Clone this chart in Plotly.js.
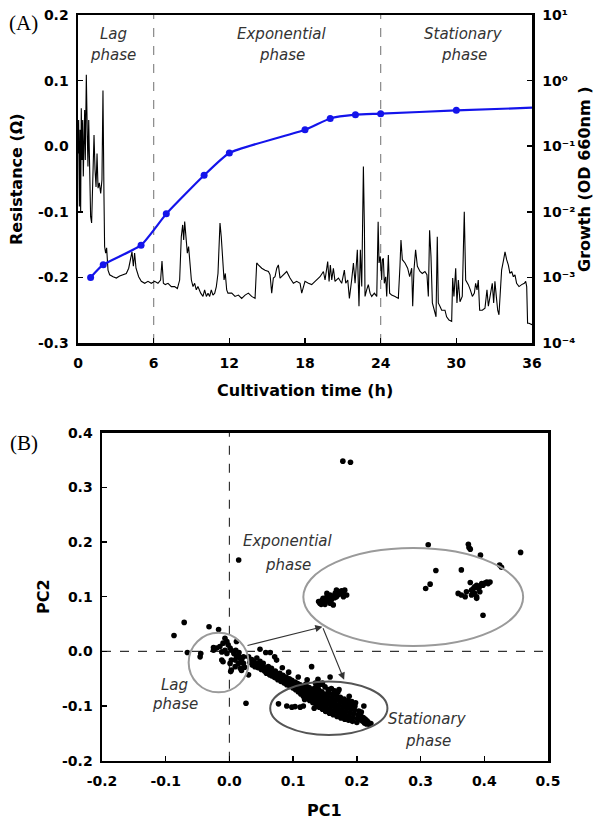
<!DOCTYPE html>
<html>
<head>
<meta charset="utf-8">
<script src="https://cdn.plot.ly/plotly-3.0.1.min.js"></script>
<style>html,body{margin:0;padding:0;background:#fff;}#chart{width:595px;height:821px;}</style>
</head>
<body>
<div id="chart"></div>
<script>
// ---------- Panel A data ----------
const timeH = [
0.00,0.05,0.11,0.16,0.21,0.26,0.32,0.37,0.42,0.48,0.53,0.58,0.66,0.74,0.79,0.85,0.93,1.00,1.08,1.16,
1.27,1.35,1.43,1.51,1.59,1.69,1.80,1.90,1.98,2.06,2.11,2.19,2.27,2.38,2.51,2.78,3.04,3.30,3.57,3.83,
4.02,4.18,4.28,4.39,4.49,4.60,4.70,4.81,5.02,5.29,5.55,5.81,6.08,6.34,6.55,6.66,6.77,6.92,7.14,7.40,
7.66,7.88,8.06,8.19,8.30,8.38,8.46,8.56,8.67,8.77,8.88,8.99,9.12,9.25,9.38,9.51,9.73,9.91,10.04,10.18,
10.31,10.44,10.57,10.70,10.84,10.97,11.10,11.26,11.36,11.47,11.58,11.68,11.79,11.89,
12.19,12.45,12.72,12.98,13.25,13.51,13.77,14.04,14.17,14.30,14.57,14.83,15.10,15.23,15.36,15.49,15.62,15.76,15.89,16.02,
16.29,16.55,16.81,17.08,17.34,17.61,17.74,18.00,18.27,18.53,18.80,19.19,19.46,19.59,19.80,19.91,20.01,20.12,20.25,20.38,
20.65,20.91,21.12,21.23,21.39,21.52,21.70,21.84,21.97,22.15,22.28,22.39,22.50,22.63,22.71,22.76,22.89,23.02,23.16,23.29,
23.50,23.69,23.80,23.87,23.97,24.08,24.13,24.21,24.29,24.40,24.48,24.61,24.71,24.87,25.14,25.40,25.53,25.61,25.72,25.93,
26.14,26.30,26.46,26.54,26.64,26.77,26.91,27.12,27.30,27.51,27.67,27.78,27.88,27.99,28.10,28.25,28.39,28.49,28.57,28.70,
28.84,29.10,29.23,29.42,29.63,29.71,29.81,29.95,30.05,30.16,30.29,30.47,30.63,30.74,30.95,31.11,31.27,31.43,31.53,31.64,
31.74,31.85,32.06,32.27,32.43,32.54,32.69,32.85,32.96,33.06,33.17,33.28,33.38,33.49,33.59,33.75,33.86,33.99,34.12,34.25,
34.39,34.52,34.65,34.78,34.97,35.18,35.39,35.50,35.58,35.65,35.76,36.00];
const resistance = [
-0.011,0.040,-0.092,0.025,-0.102,0.058,-0.021,0.040,-0.046,0.000,0.055,-0.021,0.109,0.015,-0.031,0.040,-0.082,-0.107,-0.117,-0.051,
0.017,-0.036,-0.062,-0.011,-0.064,-0.056,-0.072,-0.051,0.085,-0.077,-0.153,-0.163,-0.155,-0.189,-0.196,-0.199,-0.201,-0.198,-0.196,-0.194,
-0.186,-0.173,-0.161,-0.183,-0.163,-0.186,-0.194,-0.199,-0.206,-0.209,-0.206,-0.209,-0.206,-0.209,-0.204,-0.175,-0.209,-0.211,-0.209,-0.214,
-0.214,-0.217,-0.204,-0.138,-0.120,-0.143,-0.115,-0.133,-0.163,-0.153,-0.183,-0.204,-0.214,-0.209,-0.219,-0.214,-0.224,-0.229,-0.219,-0.229,
-0.224,-0.229,-0.219,-0.227,-0.224,-0.214,-0.194,-0.117,-0.138,-0.183,-0.204,-0.194,-0.219,-0.224,
-0.224,-0.229,-0.227,-0.232,-0.227,-0.224,-0.229,-0.232,-0.178,-0.181,-0.186,-0.189,-0.191,-0.196,-0.224,-0.201,-0.199,-0.186,-0.181,-0.201,
-0.196,-0.191,-0.201,-0.209,-0.206,-0.209,-0.224,-0.206,-0.209,-0.211,-0.206,-0.199,-0.191,-0.204,-0.176,-0.206,-0.181,-0.204,-0.186,-0.206,
-0.201,-0.209,-0.189,-0.209,-0.204,-0.232,-0.204,-0.178,-0.209,-0.158,-0.244,-0.158,-0.214,-0.031,-0.123,-0.229,-0.219,-0.211,-0.224,-0.229,
-0.224,-0.229,-0.115,-0.178,-0.168,-0.204,-0.173,-0.171,-0.209,-0.199,-0.229,-0.166,-0.224,-0.227,-0.229,-0.232,-0.183,-0.143,-0.173,-0.178,
-0.186,-0.199,-0.186,-0.244,-0.189,-0.158,-0.183,-0.191,-0.194,-0.191,-0.196,-0.229,-0.128,-0.168,-0.239,-0.250,-0.260,-0.138,-0.239,-0.244,
-0.250,-0.250,-0.260,-0.265,-0.267,-0.201,-0.229,-0.186,-0.239,-0.204,-0.237,-0.229,-0.100,-0.204,-0.211,-0.219,-0.229,-0.224,-0.209,-0.219,
-0.204,-0.250,-0.250,-0.247,-0.219,-0.244,-0.224,-0.209,-0.239,-0.206,-0.229,-0.250,-0.257,-0.229,-0.189,-0.173,-0.161,-0.173,-0.181,-0.194,
-0.191,-0.199,-0.196,-0.209,-0.214,-0.211,-0.209,-0.206,-0.214,-0.270,-0.270,-0.272];

const growthT  = [1, 2, 5, 7, 10, 12, 18, 20, 22, 24, 30, 36];
const growthOD = [0.0010, 0.00156, 0.0031, 0.0093, 0.036, 0.079, 0.178, 0.265, 0.302, 0.313, 0.352, 0.386];

const timeTicks = [0, 6, 12, 18, 24, 30, 36];
const resTicks = [-0.3, -0.2, -0.1, 0.0, 0.1, 0.2];
const resTickText = ['-0.3', '-0.2', '-0.1', '0.0', '0.1', '0.2'];
const odTicks = [1e-4, 1e-3, 1e-2, 1e-1, 1, 10];
const odTickText = ['10\u207B\u2074', '10\u207B\u00B3', '10\u207B\u00B2', '10\u207B\u00B9', '10\u2070', '10\u00B9'];
const phaseBounds = [6, 24];
const phaseNames = ['Lag', 'Exponential', 'Stationary'];
const phaseLabelT = [2.78, 16.2, 30.6];

// ---------- Panel B data ----------
const pc1 = [
-0.071,-0.087,-0.032,-0.017,-0.066,-0.045,-0.046,
-0.025,-0.020,-0.015,-0.010,-0.007,-0.004,-0.002,0.001,0.003,0.007,0.011,0.014,0.017,0.019,0.022,-0.012,-0.010,0.001,0.003,0.009,0.017,0.019,0.003,0.002,0.011,-0.004,-0.012,-0.025,-0.007,0.010,0.015,0.009,0.014,0.022,0.024,
0.048,0.064,0.071,0.074,0.030,0.026,0.129,0.139,0.158,0.211,
0.077,0.090,0.098,0.103,0.111,0.116,
0.030,0.032,0.035,0.036,0.038,0.040,0.042,0.043,0.045,0.047,0.048,0.050,0.051,0.053,0.055,0.056,0.058,0.060,0.061,0.063,
0.064,0.066,0.067,0.069,0.071,0.072,0.074,0.076,0.077,0.079,0.081,0.082,0.084,0.086,0.087,0.089,0.090,0.092,0.094,0.095,0.097,0.098,0.100,0.101,0.103,
0.104,0.105,0.107,0.108,0.110,0.111,0.112,0.114,0.115,0.116,0.118,0.119,0.120,0.121,0.122,0.124,0.125,0.126,0.127,0.128,0.130,0.131,0.132,0.133,0.134,0.135,0.136,0.137,0.138,0.139,0.140,
0.141,0.142,0.143,0.144,0.145,0.146,0.147,0.148,0.149,0.150,0.151,0.152,0.153,0.154,0.155,0.156,0.157,0.158,0.159,0.160,0.161,0.162,0.163,0.164,0.165,0.166,0.167,0.168,0.169,0.170,0.171,0.172,0.173,0.174,0.175,0.176,0.177,0.178,0.179,0.180,
0.181,0.182,0.183,0.184,0.185,0.186,0.187,0.188,0.189,0.190,0.191,0.192,0.193,0.194,0.195,0.196,0.197,0.198,0.200,0.201,0.202,0.203,0.205,0.206,0.207,0.209,0.210,0.212,0.213,0.215,0.216,0.218,0.220,0.222,
0.140,0.145,0.150,0.155,0.160,0.170,0.135,0.165,
0.057,0.083,0.093,0.108,0.122,0.146,0.172,0.188,0.118,0.133,
0.140,0.142,0.145,0.147,0.150,0.153,0.155,0.158,0.161,0.163,0.166,0.168,0.171,0.174,0.176,0.179,0.181,0.184,0.163,0.158,0.147,0.153,0.168,0.179,0.144,0.150,0.156,0.160,0.165,0.170,0.175,0.152,
0.312,0.375,0.376,0.378,0.394,0.457,0.424,0.427,0.324,0.364,0.315,0.308,0.378,0.359,0.364,0.370,0.372,0.380,0.383,0.385,0.388,0.391,0.393,0.396,0.398,0.401,0.404,0.406,0.409,0.385,0.388,0.388,0.380,0.393,0.398,
0.178,0.190,0.0145];
const pc2 = [
0.053,0.029,0.045,0.040,-0.002,-0.004,-0.010,
0.007,0.006,0.009,0.015,0.024,0.018,0.012,0.006,0.002,-0.004,-0.010,-0.007,-0.013,-0.016,-0.010,-0.016,-0.019,-0.022,-0.016,-0.028,-0.031,-0.035,-0.034,-0.037,0.018,-0.004,-0.001,0.002,0.002,0.002,-0.002,-0.016,-0.022,-0.022,-0.029,
0.004,-0.002,-0.010,-0.016,-0.043,-0.095,-0.028,-0.051,-0.047,-0.100,
-0.096,-0.100,-0.102,-0.101,-0.102,-0.100,
-0.010,-0.020,-0.015,-0.025,-0.018,-0.028,-0.022,-0.012,-0.030,-0.025,-0.018,-0.033,-0.027,-0.022,-0.036,-0.030,-0.040,-0.034,-0.028,-0.043,
-0.037,-0.031,-0.045,-0.040,-0.048,-0.036,-0.043,-0.052,-0.046,-0.040,-0.055,-0.049,-0.044,-0.058,-0.052,-0.047,-0.061,-0.055,-0.050,-0.064,-0.058,-0.053,-0.067,-0.061,-0.056,
-0.070,-0.064,-0.059,-0.074,-0.067,-0.061,-0.078,-0.071,-0.065,-0.082,-0.075,-0.068,-0.060,-0.086,-0.079,-0.072,-0.066,-0.090,-0.083,-0.076,-0.069,-0.094,-0.087,-0.080,-0.073,-0.066,-0.098,-0.091,-0.084,-0.077,-0.070,
-0.102,-0.095,-0.088,-0.081,-0.074,-0.106,-0.099,-0.092,-0.085,-0.078,-0.110,-0.103,-0.096,-0.089,-0.082,-0.075,-0.113,-0.106,-0.099,-0.092,-0.085,-0.078,-0.116,-0.109,-0.102,-0.095,-0.088,-0.081,-0.119,-0.112,-0.105,-0.098,-0.091,-0.084,-0.122,-0.115,-0.108,-0.101,-0.094,-0.087,
-0.124,-0.117,-0.110,-0.103,-0.096,-0.090,-0.126,-0.119,-0.112,-0.105,-0.098,-0.092,-0.128,-0.121,-0.114,-0.107,-0.100,-0.094,-0.130,-0.123,-0.116,-0.109,-0.125,-0.118,-0.111,-0.128,-0.121,-0.131,-0.124,-0.133,-0.127,-0.130,-0.134,-0.132,
-0.062,-0.060,-0.065,-0.070,-0.068,-0.075,-0.058,-0.072,
-0.002,-0.030,-0.038,-0.047,-0.052,-0.058,-0.070,-0.082,-0.088,-0.104,
0.091,0.088,0.093,0.097,0.091,0.100,0.095,0.103,0.097,0.101,0.106,0.100,0.109,0.105,0.111,0.106,0.112,0.103,0.085,0.088,0.089,0.106,0.112,0.100,0.086,0.086,0.092,0.094,0.098,0.103,0.108,0.094,
0.195,0.196,0.190,0.187,0.176,0.181,0.158,0.154,0.148,0.149,0.123,0.115,0.126,0.106,0.103,0.100,0.109,0.112,0.115,0.118,0.121,0.115,0.119,0.124,0.121,0.125,0.127,0.124,0.127,0.106,0.100,0.097,0.103,0.109,0.066,
0.348,0.346,0.167];

const pc1Ticks = [-0.2, -0.1, 0.0, 0.1, 0.2, 0.3, 0.4, 0.5];
const pc1TickText = ['-0.2', '-0.1', '0.0', '0.1', '0.2', '0.3', '0.4', '0.5'];
const pc2Ticks = [-0.2, -0.1, 0.0, 0.1, 0.2, 0.3, 0.4];
const pc2TickText = ['-0.2', '-0.1', '0.0', '0.1', '0.2', '0.3', '0.4'];

// group ellipses [x0, x1, y0, y1]
const lagEllipse = [-0.064, 0.030, -0.075, 0.034];
const expEllipse = [0.116, 0.461, 0.010, 0.189];
const statEllipse = [0.064, 0.248, -0.153, -0.055];
// arrows [fromX, fromY, toX, toY]
const arrow1 = [0.026, 0.010, 0.146, 0.045];
const arrow2 = [0.146, 0.045, 0.180, -0.052];

// ---------- build ----------
const W = 595, H = 821;
const px = v => v / W;
const py = v => 1 - v / H;

const sans = 'DejaVu Sans, Liberation Sans, Arial, sans-serif';
const tickFont = {family: sans, size: 14, color: '#000', weight: 'bold'};
const titleFont = {family: sans, size: 16, color: '#000', weight: 'bold'};
const italFont = {family: sans, size: 15, color: '#333', style: 'italic'};
const serifFont = {family: 'Liberation Serif, Times New Roman, serif', size: 21, color: '#000'};

const traces = [
  {x: timeH, y: resistance, type: 'scatter', mode: 'lines', xaxis: 'x', yaxis: 'y',
   line: {color: '#000', width: 1.1}, hoverinfo: 'skip'},
  {x: growthT, y: growthOD, type: 'scatter', mode: 'lines', xaxis: 'x', yaxis: 'y2',
   line: {color: 'rgb(20,20,235)', width: 2.2, shape: 'spline', smoothing: 0.5}, hoverinfo: 'skip'},
  {x: growthT.slice(0, -1), y: growthOD.slice(0, -1), type: 'scatter', mode: 'markers', xaxis: 'x', yaxis: 'y2',
   marker: {color: 'rgb(20,20,235)', size: 7}, hoverinfo: 'skip'},
  {x: pc1, y: pc2, type: 'scatter', mode: 'markers', xaxis: 'x3', yaxis: 'y3',
   marker: {color: '#000', size: 5.6}, hoverinfo: 'skip'}
];

const axBase = {
  showline: true, linewidth: 2.5, linecolor: '#000', showgrid: false, zeroline: false,
  ticks: 'inside', ticklen: 5, tickwidth: 1.5, tickcolor: '#000', tickfont: tickFont,
  fixedrange: true
};

const shapes = [];
phaseBounds.forEach(b => shapes.push({type: 'line', xref: 'x', yref: 'y', x0: b, x1: b, y0: -0.3, y1: 0.2,
  line: {color: '#888', width: 1.2, dash: 'dash'}, layer: 'below'}));
shapes.push({type: 'line', xref: 'x3', yref: 'y3', x0: 0, x1: 0, y0: -0.2, y1: 0.4, line: {color: '#333', width: 1.2, dash: 'dash'}, layer: 'below'});
shapes.push({type: 'line', xref: 'x3', yref: 'y3', x0: -0.2, x1: 0.5, y0: 0, y1: 0, line: {color: '#333', width: 1.2, dash: 'dash'}, layer: 'below'});
[[lagEllipse, '#9a9a9a'], [expEllipse, '#9a9a9a'], [statEllipse, '#555']].forEach(([e, c]) =>
  shapes.push({type: 'circle', xref: 'x3', yref: 'y3', x0: e[0], x1: e[1], y0: e[2], y1: e[3], line: {color: c, width: 2}}));

const annotations = [];
const txt = (xref, x, y, text, font, extra) => annotations.push(Object.assign({xref: xref, yref: 'paper', x: x, y: y, text: text,
  showarrow: false, font: font, xanchor: 'center', yanchor: 'middle'}, extra || {}));
// phase labels panel A
phaseNames.forEach((n, i) => {
  txt('x', phaseLabelT[i], py(34), n, italFont);
  txt('x', phaseLabelT[i], py(55), 'phase', italFont);
});
// panel B labels
[['Exponential', 0.092, 541], ['phase', 0.092, 565], ['Lag', -0.086, 685], ['phase', -0.086, 704],
 ['Stationary', 0.311, 719], ['phase', 0.311, 741]].forEach(([t, x, y]) => txt('x3', x, py(y), t, italFont));
// arrows
[arrow1, arrow2].forEach(a => annotations.push({xref: 'x3', yref: 'y3', axref: 'x3', ayref: 'y3', x: a[2], y: a[3], ax: a[0], ay: a[1],
  text: '', showarrow: true, arrowhead: 2, arrowsize: 1.3, arrowwidth: 1.1, arrowcolor: '#333'}));
// axis titles & panel letters
txt('paper', px(17), py(179), 'Resistance (Ω)', titleFont, {textangle: -90});
txt('paper', px(585), py(179), 'Growth (OD 660nm )', titleFont, {textangle: -90});
txt('paper', px(305), py(390), 'Cultivation time (h)', titleFont);
txt('paper', px(325), py(810), 'PC1', titleFont);
txt('paper', px(43), py(597), 'PC2', titleFont, {textangle: -90});
txt('paper', px(23), py(23), '(A)', serifFont);
txt('paper', px(24), py(443), '(B)', serifFont);

const layout = {
  width: W, height: H, margin: {l: 0, r: 0, t: 0, b: 0}, paper_bgcolor: '#fff', plot_bgcolor: '#fff',
  showlegend: false, hovermode: false,
  xaxis: Object.assign({}, axBase, {domain: [px(78), px(532)], range: [0, 36], anchor: 'y', tickvals: timeTicks, mirror: true, ticklabelstandoff: 6}),
  yaxis: Object.assign({}, axBase, {domain: [py(343), py(15)], range: [-0.3, 0.2], anchor: 'x', tickvals: resTicks, ticktext: resTickText, mirror: true, ticklabelstandoff: 4}),
  yaxis2: Object.assign({}, axBase, {overlaying: 'y', side: 'right', anchor: 'x', type: 'log', range: [-4, 1], tickvals: odTicks, ticktext: odTickText, ticklabelstandoff: 5}),
  xaxis3: Object.assign({}, axBase, {domain: [px(102), px(548)], range: [-0.2, 0.5], anchor: 'y3', tickvals: pc1Ticks, ticktext: pc1TickText, mirror: true, ticklabelstandoff: 6}),
  yaxis3: Object.assign({}, axBase, {domain: [py(760.7), py(432.7)], range: [-0.2, 0.4], anchor: 'x3', tickvals: pc2Ticks, ticktext: pc2TickText, mirror: true, ticklabelstandoff: 4}),
  shapes: shapes, annotations: annotations
};

Plotly.newPlot('chart', traces, layout, {staticPlot: true, displayModeBar: false});
</script>
</body>
</html>
